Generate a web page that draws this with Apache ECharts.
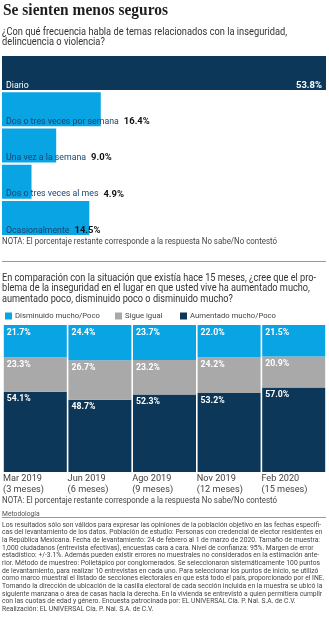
<!DOCTYPE html>
<html><head><meta charset="utf-8">
<script src="https://cdn.jsdelivr.net/npm/echarts@6/dist/echarts.min.js"></script>
<style>html,body{margin:0;padding:0;background:#fff}#c{width:329px;height:620px}</style>
</head><body><div id="c"></div>
<script>
const freqCats = ['Diario','Dos o tres veces por semana','Una vez a la semana','Dos o tres veces al mes','Ocasionalmente'];
const freqVals = [53.8,16.4,9.0,4.9,14.5];
const periods = ['Mar 2019','Jun 2019','Ago 2019','Nov 2019','Feb 2020'];
const periodNotes = ['(3 meses)','(6 meses)','(9 meses)','(12 meses)','(15 meses)'];
const seriesNames = ['Disminuido mucho/Poco','Sigue igual','Aumentado mucho/Poco'];
const disminuido = [21.7,24.4,23.7,22.0,21.5];
const igual = [23.3,26.7,23.2,24.2,20.9];
const aumentado = [54.1,48.7,52.3,53.2,57.0];

// ---- font fitting (reference uses a condensed sans) ----
const mctx = document.createElement('canvas').getContext('2d');
function measure(text, size, weight, family) { mctx.font = (weight||'normal') + ' ' + size + 'px ' + family; return mctx.measureText(text).width; }
const narrowOK = measure('abcdefghij', 20, 'normal', '"Liberation Sans Narrow", monospace') !== measure('abcdefghij', 20, 'normal', 'monospace');
const FAM = narrowOK ? 'Liberation Sans Narrow' : 'Roboto';
const F = '"' + FAM + '", sans-serif';
function fitSize(text, target, weight) { return 20 * target / measure(text, 20, weight, F); }
function fitScale(text, size, target, weight, fam) { return target / measure(text, size, weight, fam || F); }

const NAVY = '#0c3758', BLUE = '#08a4e4', GRAY = '#a9a9a9';
const pct = v => v.toFixed(1) + '%';

const metodo = [
'Los resultados sólo son válidos para expresar las opiniones de la población objetivo en las fechas especifi-',
'cas del levantamiento de los datos. Población de estudio: Personas con credencial de elector residentes en',
'la República Mexicana. Fecha de levantamiento: 24 de febrero al 1 de marzo de 2020. Tamaño de muestra:',
'1,000 ciudadanos (entrevista efectivas), encuestas cara a cara. Nivel de confianza: 95%. Margen de error',
'estadístico: +/-3.1%. Además pueden existir errores no muestrales no considerados en la estimación ante-',
'rior. Método de muestreo: Polietápico por conglomerados. Se seleccionaron sistemáticamente 100 puntos',
'de levantamiento, para realizar 10 entrevistas en cada uno. Para seleccionar los puntos de inicio, se utilizó',
'como marco muestral el listado de secciones electorales en que está todo el país, proporcionado por el INE.',
'Tomando la dirección de ubicación de la casilla electoral de cada sección incluida en la muestra se ubicó la',
'siguiente manzana o área de casas hacia la derecha. En la vivienda se entrevistó a quien permitiera cumplir',
'con las cuotas de edad y género. Encuesta patrocinada por: EL UNIVERSAL Cía. P. Nal. S.A. de C.V.',
'Realización: EL UNIVERSAL Cía. P. Nal. S.A. de C.V.'
];
const q1 = ['¿Con qué frecuencia habla de temas relacionados con la inseguridad,', 'delincuencia o violencia?'];
const q2 = ['En comparación con la situación que existía hace 15 meses, ¿cree que el pro-',
            'blema de la inseguridad en el lugar en que usted vive ha aumentado mucho,',
            'aumentado poco, disminuido poco o disminuido mucho?'];
const nota = 'NOTA: El porcentaje restante corresponde a la respuesta No sabe/No contestó';
const titulo = 'Se sienten menos seguros';
const SERIF = '"Liberation Serif", serif';

function txt(x, y, text, size, sx, opts) {
  return {type:'text', x:x, y:y, scaleX:sx, style:Object.assign({text:text, fontSize:size, fontFamily:F, fill:'#333', textVerticalAlign:'middle'}, opts||{})};
}
const sQ1 = fitScale(q1[0], 11, 285);
const sQ2 = fitScale(q2[0], 11, 314);
const sNota = fitScale(nota, 9, 275);
const sMet = fitScale(metodo[0], 7.2, 319);
const sTit = fitScale(titulo, 16, 165, 'bold', SERIF);

const graphics = [
  txt(3, 11, titulo, 16, sTit, {fontFamily:SERIF, fontWeight:'bold', fill:'#1e1e1e'}),
  txt(2, 32, q1[0], 11, sQ1),
  txt(2, 42.5, q1[1], 11, sQ1),
  txt(2, 242, nota, 9, sNota, {fill:'#444'}),
  {type:'line', shape:{x1:2,y1:261.5,x2:326,y2:261.5}, style:{stroke:'#9a9a9a', lineWidth:1}},
  txt(2, 278, q2[0], 11, sQ2),
  txt(2, 288.5, q2[1], 11, sQ2),
  txt(2, 299, q2[2], 11, sQ2),
  txt(2, 501, nota, 9, sNota, {fill:'#444'}),
  {type:'line', shape:{x1:2,y1:517.5,x2:326,y2:517.5}, style:{stroke:'#9a9a9a', lineWidth:1}},
  txt(2, 514, 'Metodología', 7.2, sMet, {fill:'#555'})
];
metodo.forEach((l,i) => graphics.push(txt(2, 525 + i*7.65, l, 7.2, sMet, {fill:'#444'})));

const barNameSize = fitSize('Dos o tres veces por semana', 113);
const barValSize = fitSize('53.8%', 26, 'bold');
const stackSize = fitSize('21.7%', 24, 'bold');
const axisSize = fitSize('Mar 2019', 39);
const legendSize = fitSize(seriesNames[0], 85);

const stackLabel = {show:true, position:'insideTopLeft', distance:3, color:'#fff', fontWeight:'bold', fontSize:stackSize, fontFamily:F, formatter:p=>pct(p.value)};

const legendBase = (name, left) => ({
  top: 307, left: left, itemWidth: 7, itemHeight: 7, icon: 'rect', data: [name],
  textStyle: {fontSize: legendSize, color: '#444', fontFamily: F, padding:[0,0,0,-2]}
});

const option = {
  animation:false,
  graphic: graphics,
  legend: [legendBase(seriesNames[0], 0), legendBase(seriesNames[1], 110), legendBase(seriesNames[2], 175)],
  grid: [
    {left:2, right:3, top:55, height:181},
    {left:2, right:3, top:325, bottom:148}
  ],
  xAxis: [
    {gridIndex:0, type:'value', min:0, max:53.8, show:false},
    {gridIndex:1, type:'category', data:periods, show:false},
    {gridIndex:1, type:'category', boundaryGap:false, position:'bottom',
     data: periods.map((p,i)=>p+'\n'+periodNotes[i]).concat(['']),
     axisLine:{show:false}, axisTick:{show:false},
     axisLabel:{interval:0, align:'left', margin:1, fontSize:axisSize, lineHeight:11, color:'#444', fontFamily:F}}
  ],
  yAxis: [
    {gridIndex:0, type:'category', data:freqCats, inverse:true, show:false},
    {gridIndex:1, type:'value', min:0, max:99.1, show:false}
  ],
  series: [
    {type:'bar', xAxisIndex:0, yAxisIndex:0, barWidth:34, barGap:'-100%',
     data: freqVals.map((v,i)=>({value:v, itemStyle:{color: i===0?NAVY:BLUE}})),
     label:{show:true, position:'insideBottomLeft', distance:4, offset:[0,4], fontFamily:F,
       formatter:p=> p.dataIndex===0 ? '{w|'+p.name+'}' : '{n|'+p.name+'}{v|'+pct(p.value)+'}',
       rich:{w:{color:'#fff', fontSize:barNameSize, fontFamily:F},
             n:{color:'#17456f', fontSize:barNameSize, fontFamily:F},
             v:{color:'#111', fontSize:barValSize, fontWeight:'bold', fontFamily:F, padding:[0,0,0,5]}}}
    },
    {type:'bar', xAxisIndex:0, yAxisIndex:0, barWidth:34, barGap:'-100%', silent:true,
     data: freqVals.map((v,i)=> i===0 ? v : '-'), itemStyle:{color:'rgba(0,0,0,0)'},
     label:{show:true, position:'insideBottomRight', distance:4, offset:[0,4], color:'#fff', fontWeight:'bold', fontSize:barValSize, fontFamily:F, formatter:p=>pct(p.value)}
    },
    {name:seriesNames[2], type:'bar', stack:'s', xAxisIndex:1, yAxisIndex:1, barWidth:63, data:aumentado, itemStyle:{color:NAVY}, label:stackLabel},
    {name:seriesNames[1], type:'bar', stack:'s', xAxisIndex:1, yAxisIndex:1, barWidth:63, data:igual, itemStyle:{color:GRAY}, label:stackLabel},
    {name:seriesNames[0], type:'bar', stack:'s', xAxisIndex:1, yAxisIndex:1, barWidth:63, data:disminuido, itemStyle:{color:BLUE}, label:stackLabel}
  ]
};
const chart = echarts.init(document.getElementById('c'), null, {renderer:'canvas'});
chart.setOption(option);
</script>
</body></html>
